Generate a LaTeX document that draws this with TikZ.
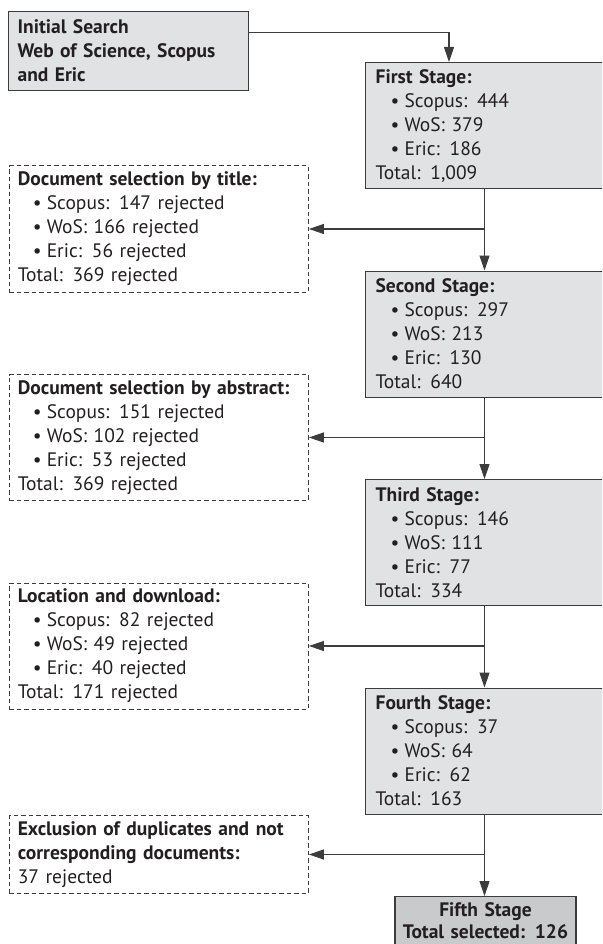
\documentclass[tikz,border=0pt]{standalone}
\usepackage{fontspec}
\setmainfont[WordSpace=0.85]{PT Sans}
\usetikzlibrary{arrows.meta}
\definecolor{stagefill}{HTML}{E1E2E3}
\definecolor{finalfill}{HTML}{C9CACB}
\definecolor{edgegray}{HTML}{3C3C3C}
\definecolor{ink}{HTML}{231F20}
\newcommand{\itm}[1]{\hspace*{15pt}\makebox[14pt][l]{\textbullet}#1}
\begin{document}
\begin{tikzpicture}[x=1pt,y=-1pt,
  font=\fontsize{19.5}{24}\selectfont, text=ink,
  stagebox/.style={draw=edgegray, line width=1.2pt, fill=stagefill, rectangle,
    anchor=north west, inner xsep=10pt, inner ysep=0pt, text width=219pt,
    minimum height=126pt, align=left},
  dashbox/.style={draw=edgegray, line width=1pt, dash pattern=on 4.5pt off 3pt,
    rectangle, anchor=west, inner xsep=8.6pt, inner ysep=0pt, text width=282pt,
    align=left},
  initbox/.style={draw=edgegray, line width=1.2pt, fill=stagefill, rectangle,
    anchor=north west, inner xsep=9pt, inner ysep=0pt, text width=222pt,
    minimum height=79pt, align=left, font=\fontsize{19.5}{24}\selectfont\bfseries},
  finalbox/.style={draw=edgegray, line width=1.2pt, fill=finalfill, rectangle,
    anchor=north, inner xsep=4.5pt, inner ysep=5.5pt, text width=172pt,
    align=center, font=\fontsize{19.5}{22.5}\selectfont\bfseries},
  arr/.style={draw=edgegray, line width=1.1pt, -{Triangle[length=15pt,width=10pt]}}
]
\useasboundingbox (0,0) rectangle (602,944);
\clip (0,0) rectangle (602,944);

\node[initbox] (init) at (8,11) {Initial Search\\Web of Science, Scopus\\and Eric};

\node[stagebox] (s1) at (365,62) {\textbf{First Stage:}\\\itm{Scopus: 444}\\\itm{WoS: 379}\\\itm{Eric: 186}\\Total: 1,009};
\node[stagebox] (s2) at (365,270.5) {\textbf{Second Stage:}\\\itm{Scopus: 297}\\\itm{WoS: 213}\\\itm{Eric: 130}\\Total: 640};
\node[stagebox] (s3) at (365,479) {\textbf{Third Stage:}\\\itm{Scopus: 146}\\\itm{WoS: 111}\\\itm{Eric: 77}\\Total: 334};
\node[stagebox] (s4) at (365,687.5) {\textbf{Fourth Stage:}\\\itm{Scopus: 37}\\\itm{WoS: 64}\\\itm{Eric: 62}\\Total: 163};
\node[finalbox] (fin) at (485.5,896) {\mbox{Fifth Stage}\\\mbox{Total selected: 126}};

\node[dashbox, minimum height=126pt] (d1) at (8.7,229) {\textbf{Document selection by title:}\\\itm{Scopus: 147 rejected}\\\itm{WoS: 166 rejected}\\\itm{Eric: 56 rejected}\\Total: 369 rejected};
\node[dashbox, minimum height=126pt] (d2) at (8.7,437.5) {\textbf{Document selection by abstract:}\\\itm{Scopus: 151 rejected}\\\itm{WoS: 102 rejected}\\\itm{Eric: 53 rejected}\\Total: 369 rejected};
\node[dashbox, minimum height=126pt] (d3) at (8.7,646) {\textbf{Location and download:}\\\itm{Scopus: 82 rejected}\\\itm{WoS: 49 rejected}\\\itm{Eric: 40 rejected}\\Total: 171 rejected};
\node[dashbox, minimum height=78pt] (d4) at (8.7,854.5) {\textbf{Exclusion of duplicates and not}\\\textbf{corresponding documents:}\\37 rejected};

\coordinate (j) at (449,32.5);
\coordinate (vx) at (484.5,0);
\draw[arr] (init.east |- j) -| (s1.north -| j);
\draw[arr] (s1.south -| vx) -- (s2.north -| vx);
\draw[arr] (d1.east -| vx) -- (d1.east);
\draw[arr] (s2.south -| vx) -- (s3.north -| vx);
\draw[arr] (d2.east -| vx) -- (d2.east);
\draw[arr] (s3.south -| vx) -- (s4.north -| vx);
\draw[arr] (d3.east -| vx) -- (d3.east);
\draw[arr] (s4.south -| vx) -- (fin.north -| vx);
\draw[arr] (d4.east -| vx) -- (d4.east);
\end{tikzpicture}
\end{document}
